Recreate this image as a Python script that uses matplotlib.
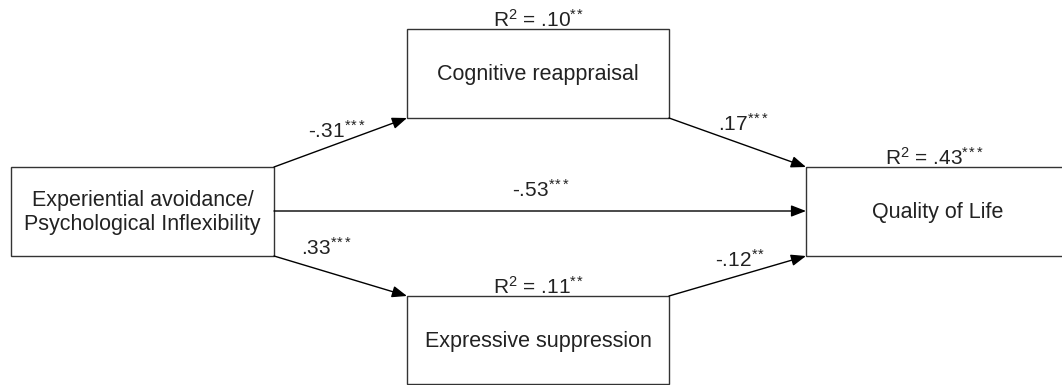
import matplotlib
matplotlib.use("Agg")
import matplotlib.pyplot as plt
from matplotlib.patches import Rectangle

plt.rcParams['font.family'] = ['Liberation Sans', 'DejaVu Sans']
plt.rcParams['mathtext.fontset'] = 'custom'
plt.rcParams['mathtext.rm'] = 'Liberation Sans'
plt.rcParams['mathtext.it'] = 'Liberation Sans'

# variables in the model
predictor = "Experiential avoidance/\nPsychological Inflexibility"
mediators = ["Cognitive reappraisal", "Expressive suppression"]
outcome = "Quality of Life"

# path coefficients and significance stars
a_paths = ["-.31", ".33"]
a_stars = ["***", "***"]
b_paths = [".17", "-.12"]
b_stars = ["***", "**"]
c_path = "-.53"
c_stars = "***"

# explained variance
r2_mediators = [".10", ".11"]
r2_mediator_stars = ["**", "**"]
r2_outcome = ".43"
r2_outcome_stars = "***"

fig = plt.figure(figsize=(10.62, 3.85), dpi=100)
ax = fig.add_axes([0, 0, 1, 1])
ax.set_xlim(0, 1062)
ax.set_ylim(385, 0)
ax.axis('off')

edge = '#333333'
lw = 1.0
fs = 15.5
fs_lab = 15


def stars_tex(st):
    return "$^{" + r"\!".join(st) + "}$"


def box(x0, y0, x1, y1, text):
    ax.add_patch(Rectangle((x0, y0), x1 - x0, y1 - y0, fill=False, ec=edge, lw=lw))
    ax.text((x0 + x1) / 2, (y0 + y1) / 2 + 1, text, ha='center', va='center',
            fontsize=fs, color='#222222', linespacing=1.2)


def arrow(p0, p1):
    ax.annotate("", xy=p1, xytext=p0,
                arrowprops=dict(arrowstyle='-|>,head_length=0.9,head_width=0.35',
                                color='black', lw=lw, shrinkA=0, shrinkB=0))


def coef(x, y, val, stars):
    ax.text(x, y, val + stars_tex(stars), ha='center', va='baseline',
            fontsize=fs_lab, color='#222222')


# boxes
left = (11, 167, 274, 256)
mid_top = (407, 29, 669, 118)
mid_bot = (407, 296, 669, 384)
right = (806, 167, 1070, 256)

box(*left, predictor)
box(*mid_top, mediators[0])
box(*mid_bot, mediators[1])
box(*right, outcome)

# paths
arrow((274, 167), (407, 118))
arrow((669, 118), (806, 167))
arrow((274, 211), (806, 211))
arrow((274, 256), (407, 296))
arrow((669, 296), (806, 256))

coef(337, 138, a_paths[0], a_stars[0])
coef(327, 255, a_paths[1], a_stars[1])
coef(744, 131, b_paths[0], b_stars[0])
coef(740, 267, b_paths[1], b_stars[1])
coef(541, 197, c_path, c_stars)

for (x0, y0, x1, y1), r2, st in zip([mid_top, mid_bot], r2_mediators, r2_mediator_stars):
    ax.text((x0 + x1) / 2, y0 - 2, "R$^{2}$ = " + r2 + stars_tex(st),
            ha='center', va='baseline', fontsize=fs_lab, color='#222222')
ax.text(934, 165, "R$^{2}$ = " + r2_outcome + stars_tex(r2_outcome_stars),
        ha='center', va='baseline', fontsize=fs_lab, color='#222222')

fig.savefig("out.png", dpi=100, facecolor='white')
